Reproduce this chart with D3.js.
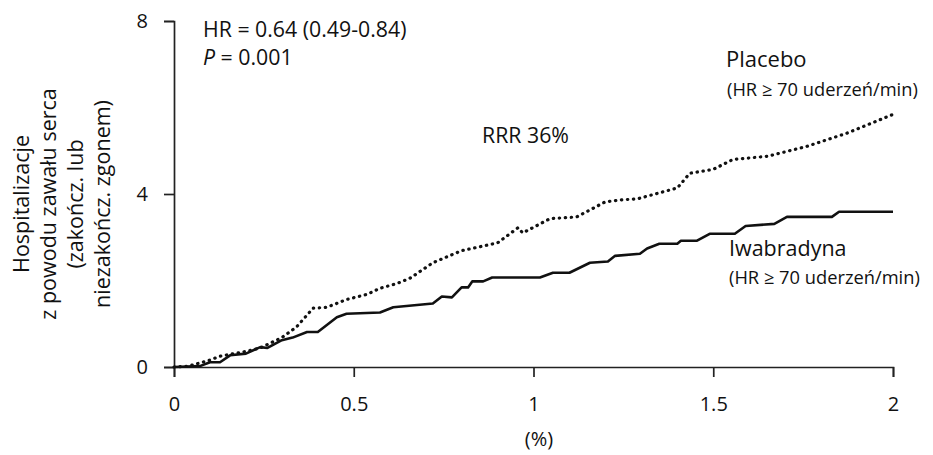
<!DOCTYPE html>
<html>
<head>
<meta charset="utf-8">
<script src="https://cdn.jsdelivr.net/npm/d3@7"></script>
<style>
  body { margin: 0; background: #fff; }
  svg { display: block; }
  text { font-family: "Open Sans", sans-serif; fill: #111; }
</style>
</head>
<body>
<svg id="chart" width="933" height="455"></svg>
<script>
// values
const placeboX = [0, 0.04, 0.1, 0.128, 0.2, 0.24, 0.3, 0.34, 0.387, 0.425, 0.48, 0.537, 0.573, 0.62, 0.656, 0.72, 0.8, 0.9, 0.957, 0.97, 1.046, 1.12, 1.2, 1.24, 1.29, 1.4, 1.435, 1.5, 1.555, 1.65, 1.76, 1.87, 2.0];
const placeboY = [0, 0.02, 0.16, 0.25, 0.36, 0.44, 0.68, 0.92, 1.36, 1.38, 1.56, 1.68, 1.82, 1.93, 2.05, 2.41, 2.69, 2.87, 3.22, 3.1, 3.43, 3.47, 3.82, 3.86, 3.89, 4.14, 4.48, 4.57, 4.8, 4.87, 5.1, 5.4, 5.84];

const ivaX = [0, 0.072, 0.1, 0.128, 0.156, 0.2, 0.24, 0.26, 0.3, 0.33, 0.37, 0.4, 0.453, 0.48, 0.573, 0.61, 0.72, 0.745, 0.773, 0.8, 0.818, 0.83, 0.86, 0.885, 1.018, 1.054, 1.1, 1.157, 1.207, 1.227, 1.296, 1.316, 1.35, 1.4, 1.41, 1.455, 1.49, 1.56, 1.59, 1.67, 1.705, 1.83, 1.85, 2.0];
const ivaY = [0, 0.02, 0.11, 0.11, 0.27, 0.31, 0.46, 0.44, 0.62, 0.68, 0.81, 0.81, 1.15, 1.23, 1.26, 1.38, 1.47, 1.63, 1.61, 1.84, 1.84, 1.98, 1.98, 2.07, 2.07, 2.18, 2.18, 2.41, 2.44, 2.57, 2.62, 2.74, 2.85, 2.85, 2.92, 2.92, 3.08, 3.08, 3.26, 3.31, 3.47, 3.47, 3.59, 3.59];

const xTicks = [0, 0.5, 1, 1.5, 2];
const yTicks = [0, 4, 8];
const yTitle = ["Hospitalizacje", "z powodu zawału serca", "(zakończ. lub", "niezakończ. zgonem)"];

const svg = d3.select("#chart");

const x = d3.scaleLinear().domain([0, 2]).range([174, 893]);
const y = d3.scaleLinear().domain([0, 8]).range([367, 21]);

// axes
const xAxis = svg.append("g")
  .attr("transform", "translate(0," + y(0) + ")")
  .call(d3.axisBottom(x).tickValues(xTicks).tickSize(10).tickPadding(20)
    .tickFormat(d => String(d)));

const yAxis = svg.append("g")
  .attr("transform", "translate(" + x(0) + ",0)")
  .call(d3.axisLeft(y).tickValues(yTicks).tickSize(10).tickPadding(16));

[xAxis, yAxis].forEach(g => {
  g.selectAll("path, line").attr("stroke", "#222").attr("stroke-width", 1.7);
  g.selectAll("text")
    .attr("font-family", "Open Sans, sans-serif")
    .attr("font-size", 20)
    .attr("fill", "#111");
});

// curves
const line = d3.line()
  .x(d => x(d[0]))
  .y(d => y(d[1]));

svg.append("path")
  .datum(placeboX.map((d, i) => [d, placeboY[i]]))
  .attr("d", line)
  .attr("fill", "none")
  .attr("stroke", "#111")
  .attr("stroke-width", 3.2)
  .attr("stroke-linecap", "round")
  .attr("stroke-dasharray", "0.4,5.6");

svg.append("path")
  .datum(ivaX.map((d, i) => [d, ivaY[i]]))
  .attr("d", line)
  .attr("fill", "none")
  .attr("stroke", "#111")
  .attr("stroke-width", 2.6)
  .attr("stroke-linejoin", "round");

// y title
const yt = svg.append("text")
  .attr("transform", "translate(0,204) rotate(-90)")
  .attr("text-anchor", "middle")
  .attr("font-size", 21.5);
yt.selectAll("tspan")
  .data(yTitle)
  .enter()
  .append("tspan")
    .attr("x", 0)
    .attr("y", (d, i) => 29 + i * 27)
    .text(d => d);

// x title
svg.append("text")
  .attr("x", 539)
  .attr("y", 446)
  .attr("text-anchor", "middle")
  .attr("font-size", 20)
  .text("(%)");

// annotations
svg.append("text")
  .attr("x", 203)
  .attr("y", 37)
  .attr("font-size", 21.3)
  .text("HR = 0.64 (0.49-0.84)");

const p = svg.append("text")
  .attr("x", 203)
  .attr("y", 65)
  .attr("font-size", 21.3);
p.append("tspan").attr("font-style", "italic").text("P");
p.append("tspan").text(" = 0.001");

svg.append("text")
  .attr("x", 482)
  .attr("y", 143)
  .attr("font-size", 21.3)
  .text("RRR 36%");

svg.append("text")
  .attr("x", 726)
  .attr("y", 67)
  .attr("font-size", 22)
  .text("Placebo");

svg.append("text")
  .attr("x", 727)
  .attr("y", 96)
  .attr("font-size", 18.3)
  .text("(HR ≥ 70 uderzeń/min)");

svg.append("text")
  .attr("x", 729)
  .attr("y", 256)
  .attr("font-size", 21.5)
  .text("Iwabradyna");

svg.append("text")
  .attr("x", 729)
  .attr("y", 284)
  .attr("font-size", 18.3)
  .text("(HR ≥ 70 uderzeń/min)");
</script>
</body>
</html>
